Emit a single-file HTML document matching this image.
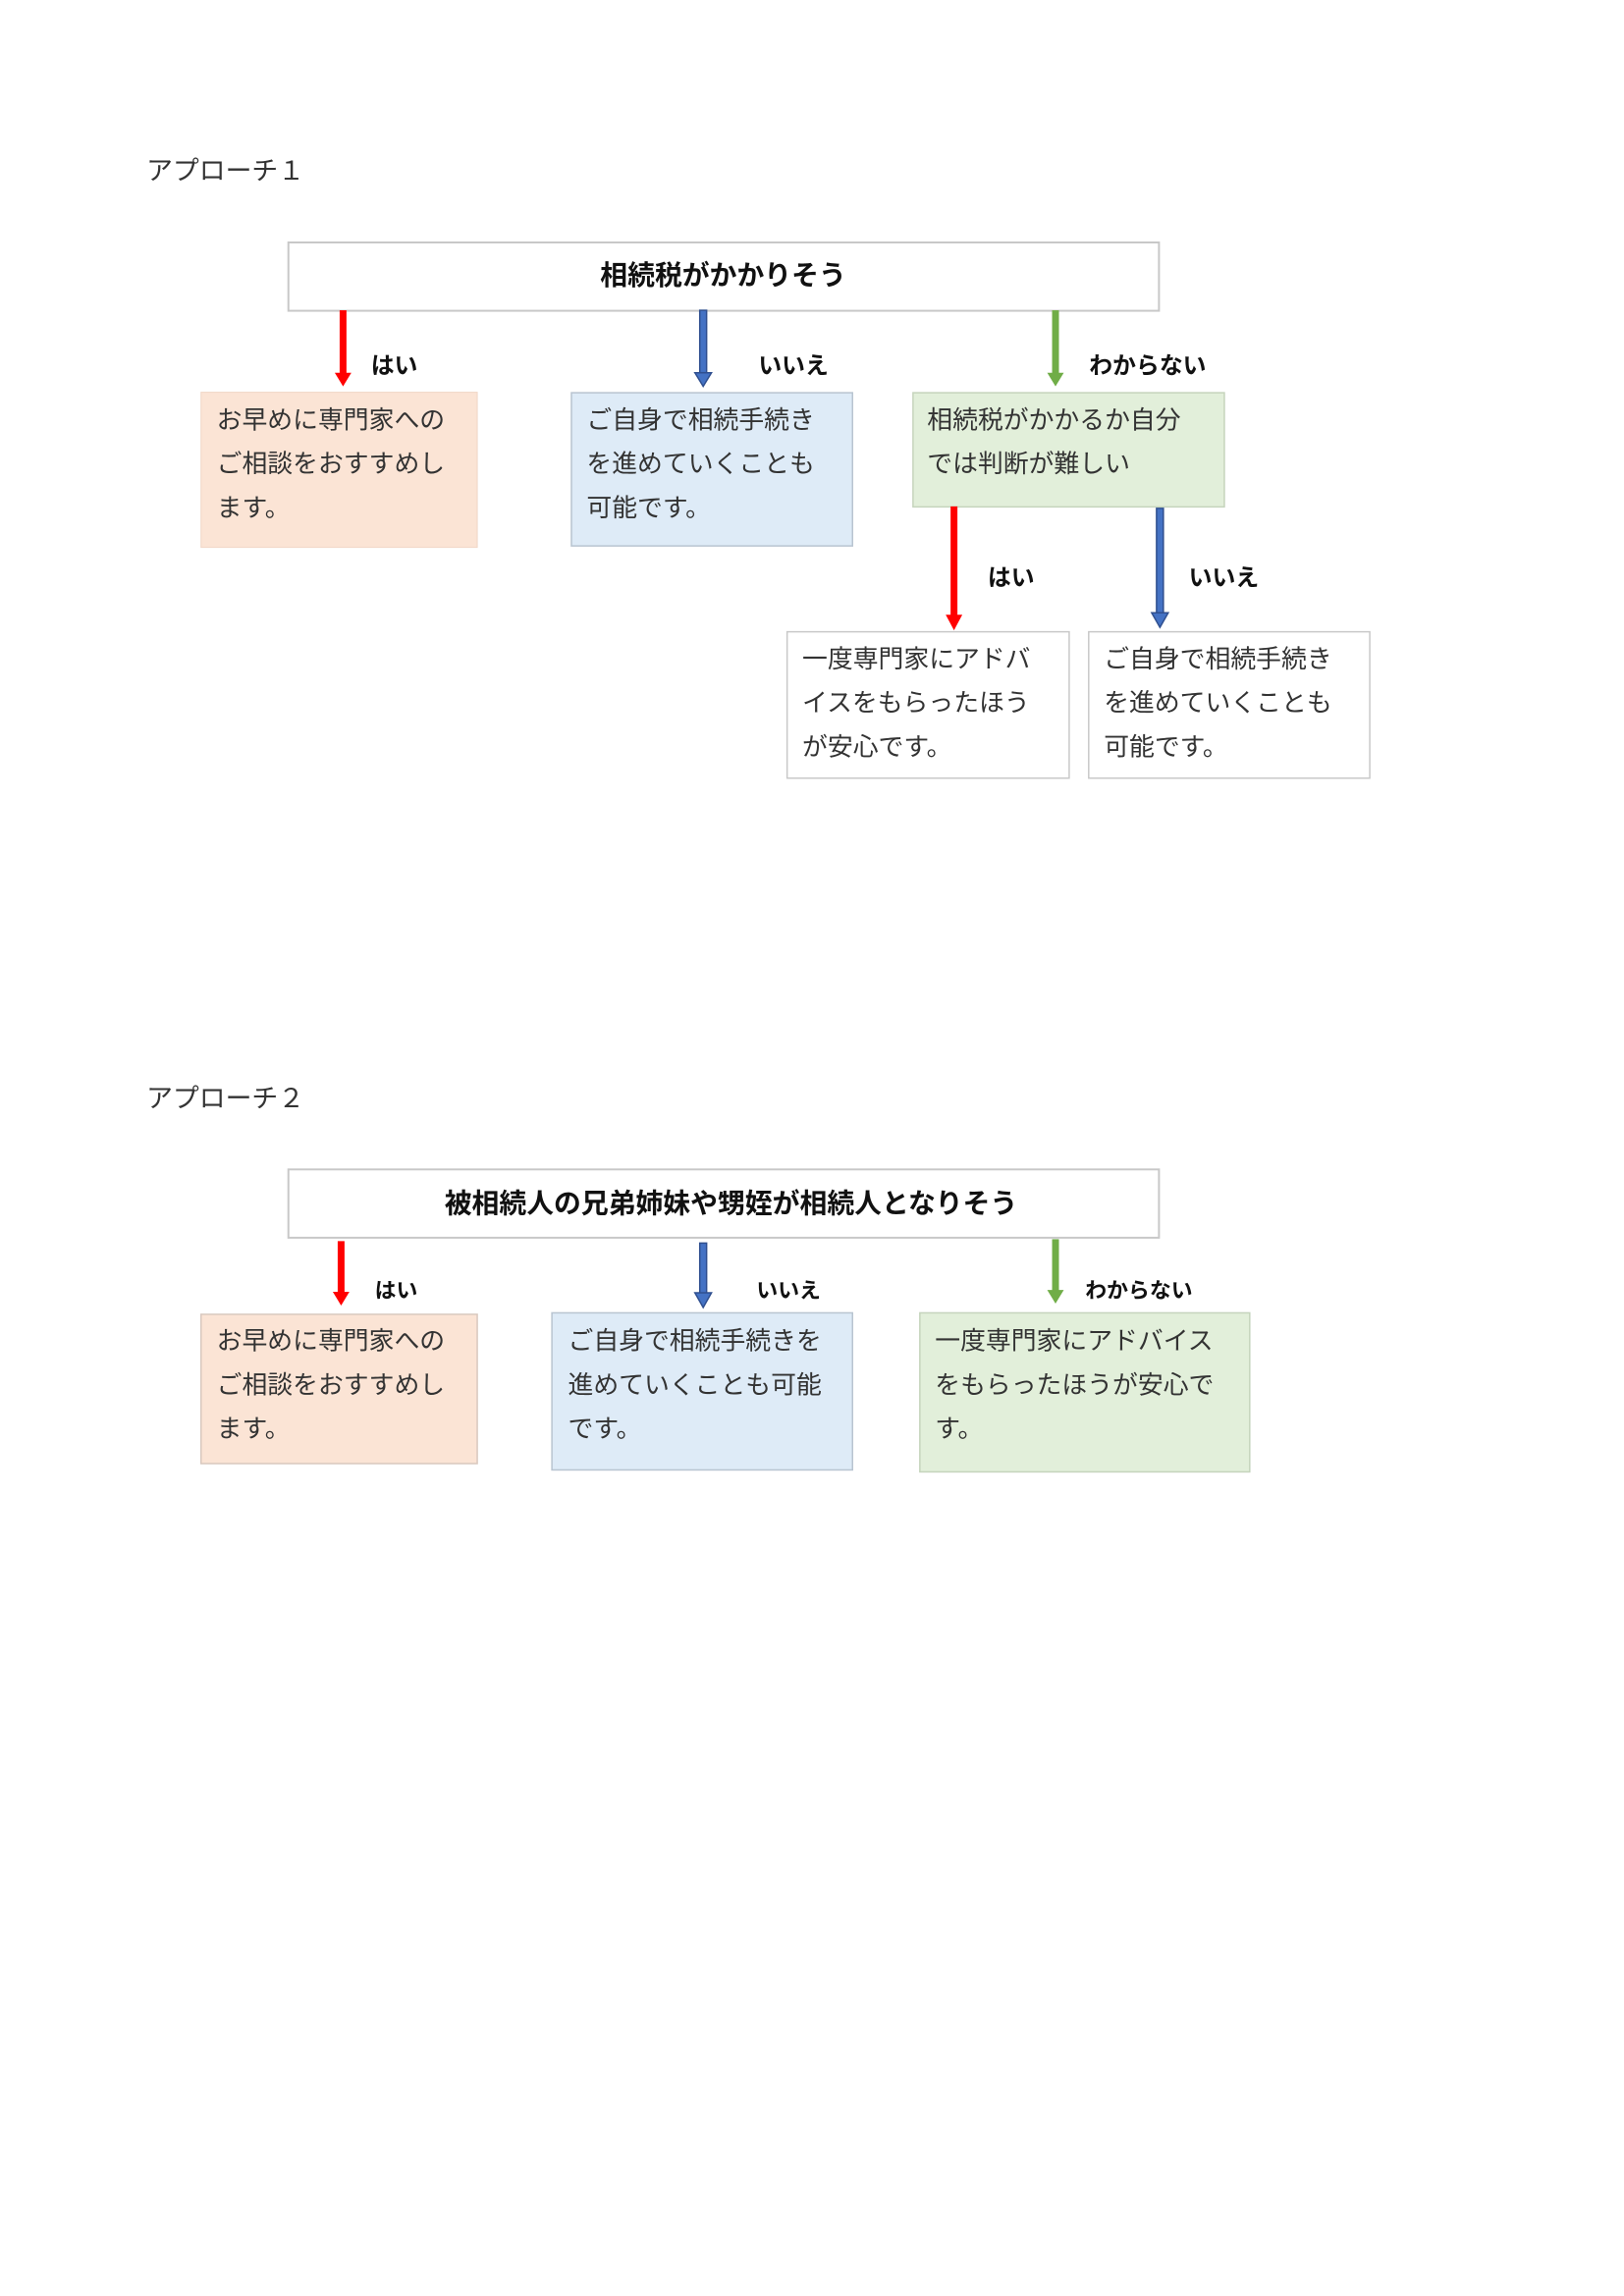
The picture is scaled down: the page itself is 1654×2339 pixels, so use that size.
<!DOCTYPE html>
<html><head><meta charset="utf-8"><style>
html,body{margin:0;padding:0;background:#fff}
svg{display:block}
text{font-family:"Liberation Sans","Noto Sans CJK JP",sans-serif;fill:#222}
.t{font-size:26px;fill:#333}
.b{font-weight:bold;font-size:24px;fill:#111}
.h{font-weight:bold;font-size:28px;fill:#111}
.ttl{font-size:27px;fill:#333}
</style></head><body>
<svg width="1654" height="2339" viewBox="0 0 1654 2339" xmlns="http://www.w3.org/2000/svg">
<g transform="scale(0.994)">
<text class="ttl" x="150" y="184">アプローチ１</text>
<rect x="295.5" y="248.5" width="892" height="70" fill="#fff" stroke="#c8c8c8" stroke-width="2"/>
<text class="h" x="741" y="292" text-anchor="middle">相続税がかかりそう</text>
<rect x="348" y="318" width="7" height="66" fill="#f00"/><polygon points="343,382 360,382 351.5,396" fill="#f00"/>
<rect x="717" y="318" width="7" height="64" fill="#4472c4" stroke="#2f4f8f" stroke-width="1.5"/><polygon points="712,382 729,382 720.5,396" fill="#4472c4" stroke="#2f4f8f" stroke-width="1.5"/>
<rect x="1078" y="318" width="7" height="66" fill="#70ad47"/><polygon points="1073,382 1090,382 1081.5,396" fill="#70ad47"/>
<text class="b" x="380" y="383">はい</text>
<text class="b" x="777" y="383">いいえ</text>
<text class="b" x="1116" y="383">わからない</text>
<rect x="206" y="402" width="283" height="159" fill="#fbe4d5" stroke="#f0d6c6" stroke-width="1"/>
<text class="t" x="222" y="439">お早めに専門家への</text>
<text class="t" x="222" y="484">ご相談をおすすめし</text>
<text class="t" x="222" y="529">ます。</text>
<rect x="585.5" y="402.5" width="288" height="157" fill="#deebf7" stroke="#b8c4d0" stroke-width="1.5"/>
<text class="t" x="601" y="439">ご自身で相続手続き</text>
<text class="t" x="601" y="484">を進めていくことも</text>
<text class="t" x="601" y="529">可能です。</text>
<rect x="935.5" y="402.5" width="319" height="117" fill="#e2efda" stroke="#c5d4bc" stroke-width="1.5"/>
<text class="t" x="950" y="439">相続税がかかるか自分</text>
<text class="t" x="950" y="484">では判断が難しい</text>
<rect x="974" y="519" width="7" height="112" fill="#f00"/><polygon points="969,630 986,630 977.5,646" fill="#f00"/>
<rect x="1185" y="521" width="7" height="109" fill="#4472c4" stroke="#2f4f8f" stroke-width="1.5"/><polygon points="1180,628 1197,628 1188.5,643" fill="#4472c4" stroke="#2f4f8f" stroke-width="1.5"/>
<text class="b" x="1012" y="600">はい</text>
<text class="b" x="1218" y="600">いいえ</text>
<rect x="806.5" y="647.5" width="289" height="150" fill="#fff" stroke="#c8c8c8" stroke-width="1.5"/>
<text class="t" x="822" y="684">一度専門家にアドバ</text>
<text class="t" x="822" y="729">イスをもらったほう</text>
<text class="t" x="822" y="774">が安心です。</text>
<rect x="1115.5" y="647.5" width="288" height="150" fill="#fff" stroke="#c8c8c8" stroke-width="1.5"/>
<text class="t" x="1131" y="684">ご自身で相続手続き</text>
<text class="t" x="1131" y="729">を進めていくことも</text>
<text class="t" x="1131" y="774">可能です。</text>

<text class="ttl" x="150" y="1135">アプローチ２</text>
<rect x="295.5" y="1198.5" width="892" height="70" fill="#fff" stroke="#c8c8c8" stroke-width="2"/>
<text class="h" x="749" y="1243" text-anchor="middle">被相続人の兄弟姉妹や甥姪が相続人となりそう</text>
<rect x="346" y="1272" width="7" height="54" fill="#f00"/><polygon points="341,1324 358,1324 349.5,1338" fill="#f00"/>
<rect x="717" y="1274" width="7" height="52" fill="#4472c4" stroke="#2f4f8f" stroke-width="1.5"/><polygon points="712,1325 729,1325 720.5,1340" fill="#4472c4" stroke="#2f4f8f" stroke-width="1.5"/>
<rect x="1078" y="1270" width="7" height="54" fill="#70ad47"/><polygon points="1073,1322 1090,1322 1081.5,1336" fill="#70ad47"/>
<text class="b" x="384" y="1330" style="font-size:22px">はい</text>
<text class="b" x="775" y="1330" style="font-size:22px">いいえ</text>
<text class="b" x="1112" y="1330" style="font-size:22px">わからない</text>
<rect x="206" y="1347" width="283" height="153" fill="#fbe4d5" stroke="#d8c8be" stroke-width="1.5"/>
<text class="t" x="222" y="1383">お早めに専門家への</text>
<text class="t" x="222" y="1428">ご相談をおすすめし</text>
<text class="t" x="222" y="1473">ます。</text>
<rect x="565.5" y="1345.5" width="308" height="161" fill="#deebf7" stroke="#b8c4d0" stroke-width="1.5"/>
<text class="t" x="582" y="1383">ご自身で相続手続きを</text>
<text class="t" x="582" y="1428">進めていくことも可能</text>
<text class="t" x="582" y="1473">です。</text>
<rect x="942.5" y="1345.5" width="338" height="163" fill="#e2efda" stroke="#c5d4bc" stroke-width="1.5"/>
<text class="t" x="958" y="1383">一度専門家にアドバイス</text>
<text class="t" x="958" y="1428">をもらったほうが安心で</text>
<text class="t" x="958" y="1473">す。</text>
</g>
</svg>
</body></html>
